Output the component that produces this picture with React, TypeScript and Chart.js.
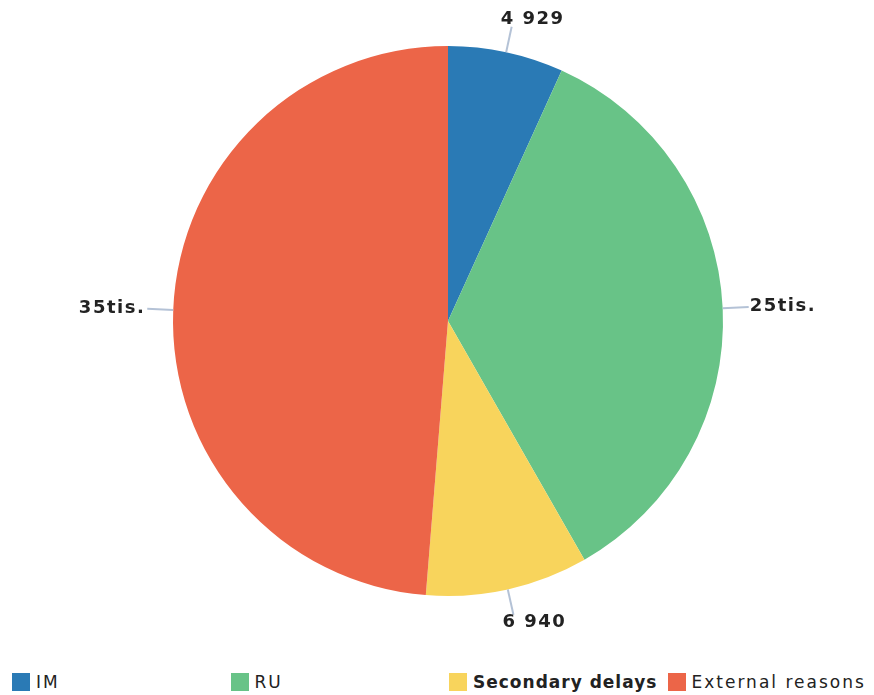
import React, { useEffect, useRef } from "react";
import { Chart, registerables } from "chart.js";

Chart.register(...registerables);

const categories = ["IM", "RU", "Secondary delays", "External reasons"];
const values = [4929, 25400, 6940, 35400];
const colors = ["#2a7ab5", "#68c387", "#f8d45c", "#ec6548"];
const legendBold = [false, false, true, false];

function formatValue(v: number): string {
  if (v >= 10000) return Math.round(v / 1000) + "tis.";
  const s = String(v);
  return s.replace(/\B(?=(\d{3})+(?!\d))/g, " ");
}

const labelPlugin = {
  id: "outerLabels",
  afterDraw(chart: any) {
    const ctx = chart.ctx;
    const meta = chart.getDatasetMeta(0);
    ctx.save();
    ctx.font = "bold 18px 'DejaVu Sans'";
    (ctx as any).letterSpacing = "1.5px";
    ctx.fillStyle = "#222";
    ctx.textBaseline = "middle";
    meta.data.forEach((arc: any, i: number) => {
      const { x, y, startAngle, endAngle, outerRadius } = arc.getProps(
        ["x", "y", "startAngle", "endAngle", "outerRadius"],
        true
      );
      const mid = (startAngle + endAngle) / 2;
      const c = Math.cos(mid);
      const s = Math.sin(mid);
      const x1 = x + c * outerRadius;
      const y1 = y + s * outerRadius;
      const x2 = x + c * (outerRadius + 26);
      const y2 = y + s * (outerRadius + 26);
      ctx.strokeStyle = "#b4c2d6";
      ctx.lineWidth = 2;
      ctx.beginPath();
      ctx.moveTo(x1, y1);
      ctx.lineTo(x2, y2);
      ctx.stroke();
      const text = formatValue(values[i]);
      const h = 16;
      let tx: number;
      let ty: number;
      if (Math.abs(c) >= 0.5) {
        ctx.textAlign = c >= 0 ? "left" : "right";
        tx = x2 + (c >= 0 ? 1 : -2);
        ty = y2 + s * (h / 2);
      } else {
        ctx.textAlign = "left";
        tx = x2 - 11;
        ty = y2 + s * (h / 2);
      }
      ctx.fillText(text, tx, ty);
    });
    ctx.restore();
  },
};

export default function App() {
  const ref = useRef<HTMLCanvasElement>(null);
  useEffect(() => {
    document.body.style.margin = "0";
    const chart = new Chart(ref.current!, {
      type: "pie",
      data: {
        labels: categories,
        datasets: [
          {
            data: values,
            backgroundColor: colors,
            borderWidth: 0,
          },
        ],
      },
      options: {
        responsive: false,
        animation: false,
        layout: { padding: { top: 46, bottom: 54, left: 22, right: 0 } },
        plugins: {
          legend: { display: false },
          tooltip: { enabled: false },
        },
      },
      plugins: [labelPlugin],
    });
    return () => chart.destroy();
  }, []);

  return (
    <div style={{ position: "relative", width: 874, height: 695, background: "#fff" }}>
      <canvas ref={ref} width={874} height={650} style={{ position: "absolute", left: 0, top: 0 }} />
      <div style={{ position: "absolute", left: 0, top: 672, width: 874, height: 22 }}>
        {categories.map((c, i) => (
          <div
            key={c}
            style={{
              position: "absolute",
              left: 12 + i * 218.5,
              top: 0,
              display: "flex",
              alignItems: "center",
              fontFamily: "'DejaVu Sans'",
              fontSize: 17,
              letterSpacing: legendBold[i] ? "1px" : "2px",
              fontWeight: legendBold[i] ? "bold" : "normal",
              color: "#222",
              whiteSpace: "nowrap",
            }}
          >
            <span style={{ display: "inline-block", width: 18, height: 18, background: colors[i], marginRight: 6 }} />
            {c}
          </div>
        ))}
      </div>
    </div>
  );
}
